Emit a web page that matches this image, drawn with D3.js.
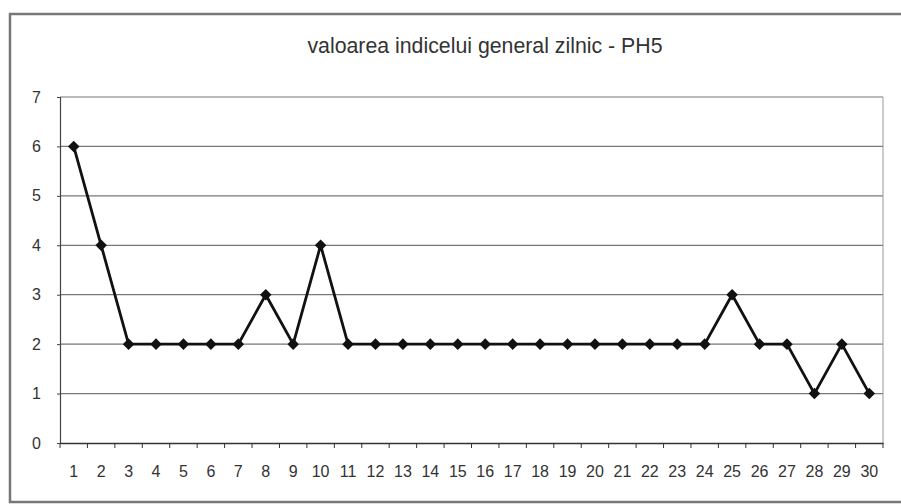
<!DOCTYPE html>
<html><head><meta charset="utf-8">
<script src="https://cdn.jsdelivr.net/npm/d3@7"></script>
<style>body{margin:0;background:#fff}svg{display:block}</style>
</head><body>
<svg id="c" width="901" height="504"></svg>
<script>
const title = "valoarea indicelui general zilnic - PH5";
const days = d3.range(1, 31).map(String);
const values = [6,4,2,2,2,2,2,3,2,4,2,2,2,2,2,2,2,2,2,2,2,2,2,2,3,2,2,1,2,1];
const yTicks = [0,1,2,3,4,5,6,7];

const svg = d3.select("#c");
const m = {l:60, r:883, t:97, b:443};
const x = d3.scaleBand().domain(days).range([m.l, m.r]);
const y = d3.scaleLinear().domain([0,7]).range([m.b, m.t]);
const font = "Liberation Sans, Arial, sans-serif";

// outer frame
svg.append("rect").attr("x",10).attr("y",14).attr("width",900).attr("height",488)
  .attr("fill","none").attr("stroke","#777").attr("stroke-width",2.5);

// title
svg.append("text").attr("x",485).attr("y",53).attr("text-anchor","middle")
  .attr("font-family",font).attr("font-size",21.3).attr("fill","#333").text(title);

// grid
svg.append("g").selectAll("line").data(yTicks.filter(d=>d>0)).join("line")
  .attr("x1",m.l).attr("x2",m.r).attr("y1",d=>y(d)).attr("y2",d=>y(d))
  .attr("stroke","#777").attr("stroke-width",1.2);
// right border
svg.append("line").attr("x1",m.r).attr("x2",m.r).attr("y1",m.t).attr("y2",m.b)
  .attr("stroke","#999").attr("stroke-width",1);

// y axis
const ya = svg.append("g").attr("transform",`translate(${m.l},0)`)
  .call(d3.axisLeft(y).tickValues(yTicks).tickSize(3).tickPadding(16).tickFormat(d3.format("d")));
ya.select(".domain").attr("stroke","#444").attr("stroke-width",1.2);
ya.selectAll(".tick line").attr("stroke","#444");
ya.selectAll("text").attr("font-family",font).attr("font-size",16).attr("fill","#333");

// x axis
const xa = svg.append("g").attr("transform",`translate(0,${m.b})`)
  .call(d3.axisBottom(x).tickSize(0).tickPadding(23));
xa.select(".domain").attr("stroke","#333").attr("stroke-width",1.5);
xa.selectAll("text").attr("font-family",font).attr("font-size",16).attr("fill","#333");
// ticks at band boundaries
const bounds = days.map(d=>x(d)).concat([m.r]);
svg.append("g").selectAll("line").data(bounds).join("line")
  .attr("x1",d=>d).attr("x2",d=>d).attr("y1",m.b).attr("y2",m.b+5)
  .attr("stroke","#333").attr("stroke-width",1);

// line
const cx = d => x(d) + x.bandwidth()/2;
svg.append("path").datum(values)
  .attr("d", d3.line().x((v,i)=>cx(days[i])).y(v=>y(v)))
  .attr("fill","none").attr("stroke","#111").attr("stroke-width",2.8);

// markers
svg.append("g").selectAll("path").data(values).join("path")
  .attr("transform",(v,i)=>`translate(${cx(days[i])},${y(v)})`)
  .attr("d", d3.symbol(d3.symbolDiamond2 || d3.symbolDiamond, 85))
  .attr("fill","#111");
</script>
</body></html>
